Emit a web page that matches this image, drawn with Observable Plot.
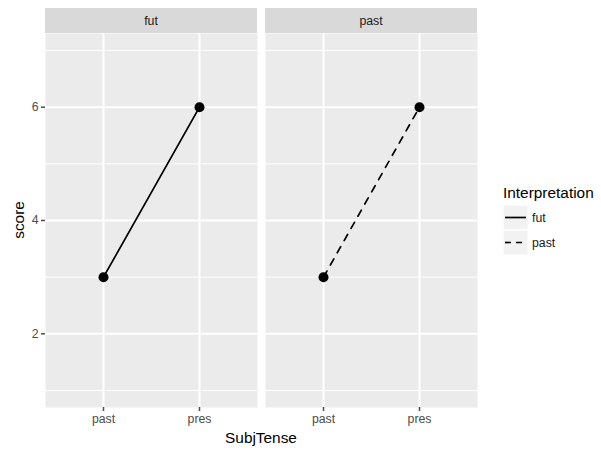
<!DOCTYPE html>
<html>
<head>
<meta charset="utf-8">
<script src="https://cdn.jsdelivr.net/npm/d3@7"></script>
<script src="https://cdn.jsdelivr.net/npm/@observablehq/plot@0.6"></script>
<style>
  html, body { margin: 0; padding: 0; background: white; }
  #chart { position: relative; width: 601px; height: 450px; }
</style>
</head>
<body>
<div id="chart"></div>
<script>
// ---- data ----
const interpretations = ["fut", "past"];          // facets / legend entries
const tenses = ["past", "pres"];                  // x categories
const futScores = [3, 6];                         // Interpretation = fut
const pastScores = [3, 6];                        // Interpretation = past
const yMajorTicks = [2, 4, 6];
const yMinorTicks = [1, 3, 5, 7];
const xTitle = "SubjTense";
const yTitle = "score";
const legendTitle = "Interpretation";

const seriesScores = { fut: futScores, past: pastScores };
const rows = interpretations.flatMap(interp =>
  tenses.map((t, j) => ({ Interpretation: interp, SubjTense: t, score: seriesScores[interp][j] }))
);

const W = 601, H = 450;
const mL = 45, mR = 124, mT = 33, mB = 43;
const font = "'Liberation Sans', Arial, Helvetica, sans-serif";
const dash = "7,7";

const plot = Plot.plot({
  width: W, height: H,
  marginLeft: mL, marginRight: mR, marginTop: mT, marginBottom: mB,
  style: { fontFamily: font, fontSize: "12.3px", background: "white", overflow: "visible" },
  fx: { domain: interpretations, paddingInner: 8 / 220, paddingOuter: 0, axis: null, label: null },
  x: { type: "point", domain: tenses, padding: 0.6, axis: null, label: null },
  y: { domain: [0.7, 7.3], axis: null, label: null },
  marks: [
    Plot.frame({ fill: "#ebebeb", stroke: null }),
    Plot.gridY(yMinorTicks, { stroke: "white", strokeWidth: 1, strokeOpacity: 1 }),
    Plot.gridY(yMajorTicks, { stroke: "white", strokeWidth: 2, strokeOpacity: 1 }),
    Plot.gridX(tenses, { stroke: "white", strokeWidth: 2, strokeOpacity: 1 }),
    Plot.line(rows.filter(d => d.Interpretation === "fut"),
      { x: "SubjTense", y: "score", fx: "Interpretation", stroke: "black", strokeWidth: 1.7 }),
    Plot.line(rows.filter(d => d.Interpretation === "past"),
      { x: "SubjTense", y: "score", fx: "Interpretation", stroke: "black", strokeWidth: 1.7, strokeDasharray: dash }),
    Plot.dot(rows, { x: "SubjTense", y: "score", fx: "Interpretation", r: 5, fill: "black", stroke: null }),
    Plot.axisY(yMajorTicks, { tickSize: 4, tickPadding: 3, tickFormat: d => String(d), label: null, color: "#4d4d4d", strokeWidth: 1.5, fontSize: 12.3 }),
    Plot.axisX({ tickSize: 4, tickPadding: 3, label: null, color: "#4d4d4d", strokeWidth: 1.5, fontSize: 12.3 })
  ]
});

document.getElementById("chart").appendChild(plot);

// ---- strips, axis titles, legend (positions from Plot's scales) ----
const svg = d3.select(plot);
const fxScale = plot.scale("fx");
const bw = fxScale.bandwidth;

const strips = svg.append("g").attr("class", "strips");
interpretations.forEach(k => {
  const x0 = fxScale.apply(k);
  strips.append("rect").attr("x", x0).attr("y", 8).attr("width", bw).attr("height", mT - 8)
    .attr("fill", "#d9d9d9");
  strips.append("text").attr("x", x0 + bw / 2).attr("y", (8 + mT) / 2)
    .attr("text-anchor", "middle").attr("dominant-baseline", "central")
    .attr("fill", "#1a1a1a").style("font-size", "12.3px").style("font-family", font).text(k);
});

const panelL = mL, panelR = W - mR, panelT = mT, panelB = H - mB;
svg.append("text").attr("x", (panelL + panelR) / 2).attr("y", 437)
  .attr("text-anchor", "middle").attr("dominant-baseline", "central")
  .style("font-size", "15.4px").style("font-family", font).attr("fill", "black").text(xTitle);
svg.append("text").attr("transform", `translate(18,${(panelT + panelB) / 2}) rotate(-90)`)
  .attr("text-anchor", "middle").attr("dominant-baseline", "central")
  .style("font-size", "15.4px").style("font-family", font).attr("fill", "black").text(yTitle);

const lg = svg.append("g").attr("transform", "translate(503,0)").attr("text-anchor", "start");
lg.append("text").attr("x", 0).attr("y", 198).attr("text-anchor", "start")
  .style("font-size", "15.4px").style("font-family", font).attr("fill", "black").text(legendTitle);
interpretations.forEach((k, i) => {
  const y0 = 205 + i * 25;
  lg.append("rect").attr("x", 0).attr("y", y0).attr("width", 25).attr("height", 25)
    .attr("fill", "#f2f2f2").attr("stroke", "white").attr("stroke-width", 1);
  lg.append("line").attr("x1", 2).attr("x2", 23).attr("y1", y0 + 12.5).attr("y2", y0 + 12.5)
    .attr("stroke", "black").attr("stroke-width", 1.7)
    .attr("stroke-dasharray", k === "past" ? "6,5" : null);
  lg.append("text").attr("x", 29).attr("y", y0 + 12.5).attr("text-anchor", "start")
    .attr("dominant-baseline", "central")
    .style("font-size", "12.3px").style("font-family", font).attr("fill", "#1a1a1a").text(k);
});
</script>
</body>
</html>
